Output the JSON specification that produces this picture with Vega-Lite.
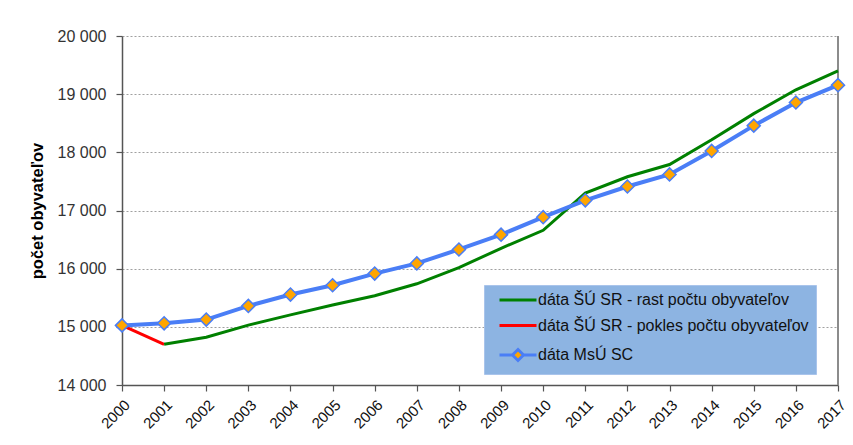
{
  "$schema": "https://vega.github.io/schema/vega-lite/v6.json",
  "width": 716,
  "height": 349,
  "autosize": {"type": "none"},
  "padding": {"left": 122, "top": 36, "right": 15, "bottom": 60},
  "background": "white",
  "config": {
    "font": "Liberation Sans",
    "view": {"stroke": null},
    "axis": {"labelFontSize": 15, "labelColor": "#333333", "domainColor": "#555555", "tickColor": "#555555", "domainWidth": 1.5, "tickWidth": 1.2}
  },
  "datasets": {
    "series": [
      {"rok": 2000, "seria": "dáta ŠÚ SR - pokles počtu obyvateľov", "pocet": 15025},
      {"rok": 2001, "seria": "dáta ŠÚ SR - pokles počtu obyvateľov", "pocet": 14700},
      {"rok": 2001, "seria": "dáta ŠÚ SR - rast počtu obyvateľov", "pocet": 14700},
      {"rok": 2002, "seria": "dáta ŠÚ SR - rast počtu obyvateľov", "pocet": 14820},
      {"rok": 2003, "seria": "dáta ŠÚ SR - rast počtu obyvateľov", "pocet": 15030},
      {"rok": 2004, "seria": "dáta ŠÚ SR - rast počtu obyvateľov", "pocet": 15205},
      {"rok": 2005, "seria": "dáta ŠÚ SR - rast počtu obyvateľov", "pocet": 15375},
      {"rok": 2006, "seria": "dáta ŠÚ SR - rast počtu obyvateľov", "pocet": 15535},
      {"rok": 2007, "seria": "dáta ŠÚ SR - rast počtu obyvateľov", "pocet": 15740},
      {"rok": 2008, "seria": "dáta ŠÚ SR - rast počtu obyvateľov", "pocet": 16017},
      {"rok": 2009, "seria": "dáta ŠÚ SR - rast počtu obyvateľov", "pocet": 16350},
      {"rok": 2010, "seria": "dáta ŠÚ SR - rast počtu obyvateľov", "pocet": 16660},
      {"rok": 2011, "seria": "dáta ŠÚ SR - rast počtu obyvateľov", "pocet": 17300},
      {"rok": 2012, "seria": "dáta ŠÚ SR - rast počtu obyvateľov", "pocet": 17580},
      {"rok": 2013, "seria": "dáta ŠÚ SR - rast počtu obyvateľov", "pocet": 17790},
      {"rok": 2014, "seria": "dáta ŠÚ SR - rast počtu obyvateľov", "pocet": 18215},
      {"rok": 2015, "seria": "dáta ŠÚ SR - rast počtu obyvateľov", "pocet": 18665},
      {"rok": 2016, "seria": "dáta ŠÚ SR - rast počtu obyvateľov", "pocet": 19075},
      {"rok": 2017, "seria": "dáta ŠÚ SR - rast počtu obyvateľov", "pocet": 19400},
      {"rok": 2000, "seria": "dáta MsÚ SC", "pocet": 15025},
      {"rok": 2001, "seria": "dáta MsÚ SC", "pocet": 15060},
      {"rok": 2002, "seria": "dáta MsÚ SC", "pocet": 15125},
      {"rok": 2003, "seria": "dáta MsÚ SC", "pocet": 15360},
      {"rok": 2004, "seria": "dáta MsÚ SC", "pocet": 15555},
      {"rok": 2005, "seria": "dáta MsÚ SC", "pocet": 15715},
      {"rok": 2006, "seria": "dáta MsÚ SC", "pocet": 15915},
      {"rok": 2007, "seria": "dáta MsÚ SC", "pocet": 16090},
      {"rok": 2008, "seria": "dáta MsÚ SC", "pocet": 16330},
      {"rok": 2009, "seria": "dáta MsÚ SC", "pocet": 16585},
      {"rok": 2010, "seria": "dáta MsÚ SC", "pocet": 16885},
      {"rok": 2011, "seria": "dáta MsÚ SC", "pocet": 17175},
      {"rok": 2012, "seria": "dáta MsÚ SC", "pocet": 17413},
      {"rok": 2013, "seria": "dáta MsÚ SC", "pocet": 17620},
      {"rok": 2014, "seria": "dáta MsÚ SC", "pocet": 18024},
      {"rok": 2015, "seria": "dáta MsÚ SC", "pocet": 18459},
      {"rok": 2016, "seria": "dáta MsÚ SC", "pocet": 18856},
      {"rok": 2017, "seria": "dáta MsÚ SC", "pocet": 19155}
    ],
    "border": [{"rok": 2017, "od": 14000, "do": 20000}]
  },
  "encoding": {
    "x": {
      "field": "rok", "type": "quantitative",
      "scale": {"domain": [2000, 2017], "nice": false, "zero": false},
      "axis": {
        "title": null, "grid": false,
        "values": [2000,2001,2002,2003,2004,2005,2006,2007,2008,2009,2010,2011,2012,2013,2014,2015,2016,2017],
        "format": "d", "labelAngle": -45, "labelAlign": "right", "labelBaseline": "top",
        "labelFontSize": 15,
        "tickSize": 6, "labelPadding": 6, "labelColor": "#111111", "labelFlush": false, "labelOverlap": false
      }
    },
    "y": {
      "field": "pocet", "type": "quantitative",
      "scale": {"domain": [14000, 20000], "nice": false, "zero": false},
      "axis": {
        "title": "počet obyvateľov", "titleFontSize": 16.5, "titleFontWeight": "bold", "titleColor": "#000000",
        "titlePadding": 12,
        "values": [14000, 15000, 16000, 17000, 18000, 19000, 20000],
        "labelExpr": "replace(format(datum.value, ','), ',', ' ')",
        "labelFontSize": 16,
        "tickSize": 6, "labelPadding": 10,
        "grid": true, "gridDash": [2, 2], "gridColor": "#A0A0A0", "gridWidth": 1.2
      }
    }
  },
  "layer": [
    {
      "data": {"name": "border"},
      "mark": {"type": "rule", "color": "#8C8C8C", "strokeWidth": 2},
      "encoding": {
        "x": {"field": "rok", "type": "quantitative"},
        "y": {"field": "od", "type": "quantitative"},
        "y2": {"field": "do"}
      }
    },
    {
      "data": {"name": "series"},
      "transform": [{"filter": "datum.seria != 'dáta MsÚ SC'"}],
      "mark": {"type": "line", "strokeWidth": 3},
      "encoding": {
        "color": {
          "field": "seria", "type": "nominal",
          "scale": {
            "domain": ["dáta ŠÚ SR - rast počtu obyvateľov", "dáta ŠÚ SR - pokles počtu obyvateľov", "dáta MsÚ SC"],
            "range": ["#008000", "#FF0000", "#4A7EF6"]
          },
          "legend": {
            "title": null, "orient": "none", "legendX": 362, "legendY": 249,
            "fillColor": "#8DB4E2", "strokeColor": "#A9C4EB", "padding": 7,
            "labelFontSize": 16, "labelColor": "#111111", "labelLimit": 400,
            "symbolSize": 100, "symbolStrokeWidth": 3, "symbolOffset": 19, "labelOffset": 12,
            "rowPadding": 9.5,
            "encode": {
              "symbols": {
                "update": {
                  "shape": {"signal": "datum.value == 'dáta MsÚ SC' ? 'M-3.7,0H-1.1M1.1,0H3.7M0,-1.1L1.1,0L0,1.1L-1.1,0Z' : 'M-3.7,0H3.7'"},
                  "fill": {"signal": "datum.value == 'dáta MsÚ SC' ? '#FFA500' : 'transparent'"}
                }
              }
            }
          }
        },
        "detail": {"field": "seria"}
      }
    },
    {
      "data": {"name": "series"},
      "transform": [{"filter": "datum.seria == 'dáta MsÚ SC'"}],
      "mark": {"type": "line", "strokeWidth": 4},
      "encoding": {
        "color": {"field": "seria", "type": "nominal"}
      }
    },
    {
      "data": {"name": "series"},
      "transform": [{"filter": "datum.seria == 'dáta MsÚ SC'"}],
      "mark": {"type": "point", "shape": "diamond", "filled": true, "fill": "#FFA500", "stroke": "#4A7EF6", "strokeWidth": 1.5, "size": 170, "opacity": 1},
      "encoding": {}
    }
  ]
}
